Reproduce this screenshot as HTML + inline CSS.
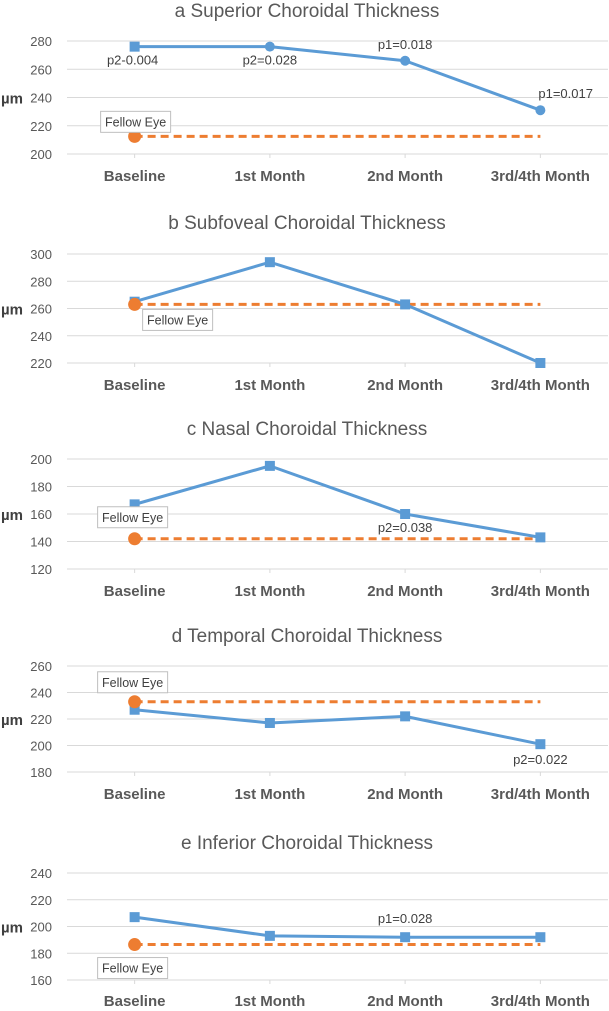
<!DOCTYPE html>
<html><head><meta charset="utf-8">
<style>
html,body{margin:0;padding:0;background:#fff;}
svg{display:block;font-family:"Liberation Sans",sans-serif;}
</style></head>
<body>
<svg id="chart" width="609" height="1011" viewBox="0 0 609 1011"></svg>
<script>
const categories = ["Baseline","1st Month","2nd Month","3rd/4th Month"];
const titles = ["a  Superior Choroidal Thickness","b  Subfoveal Choroidal Thickness","c  Nasal Choroidal Thickness","d  Temporal Choroidal Thickness","e  Inferior Choroidal Thickness"];
const studyA = [276,276,266,231];
const studyB = [265,294,263,220];
const studyC = [167,195,160,143];
const studyD = [227,217,222,201];
const studyE = [207,193,192,192];
const fellowValues = [212.5,263,142,233,186.5];
const tickA = [200,220,240,260,280];
const tickB = [220,240,260,280,300];
const tickC = [120,140,160,180,200];
const tickD = [180,200,220,240,260];
const tickE = [160,180,200,220,240];
const annotA = ["p2-0.004","p2=0.028","p1=0.018","p1=0.017"];
const annotC = ["","","p2=0.038",""];
const annotD = ["","","","p2=0.022"];
const annotE = ["","","p1=0.028",""];

const study = [studyA,studyB,studyC,studyD,studyE];
const ticks = [tickA,tickB,tickC,tickD,tickE];
const annots = [annotA,["","","",""],annotC,annotD,annotE];
// layout (not data)
const layout = [
 {top:41,bottom:154,title:17,lab:181,annDy:[14,14,-16,-16],fe:{dx:-34,dy:-25},markers:["s","c","c","c"]},
 {top:254,bottom:363,title:229,lab:390,annDy:[0,0,0,0],fe:{dx:8,dy:5},markers:["s","s","s","s"]},
 {top:459,bottom:569,title:435,lab:596,annDy:[0,0,14,0],fe:{dx:-37,dy:-32},markers:["s","s","s","s"]},
 {top:666,bottom:772,title:642,lab:799,annDy:[0,0,0,16],fe:{dx:-37,dy:-30},markers:["s","s","s","s"]},
 {top:873,bottom:980,title:849,lab:1006,annDy:[0,0,-18,0],fe:{dx:-37,dy:13},markers:["s","s","s","s"]}
];
const svg=document.getElementById('chart');
const NS="http://www.w3.org/2000/svg";
function mk(t,a,txt){const e=document.createElementNS(NS,t);for(const k in a)e.setAttribute(k,a[k]);if(txt!==undefined)e.textContent=txt;svg.appendChild(e);return e;}
const left=67,right=608;
const step=(right-left)/categories.length;
function xs(i){return left+step*(i+0.5);}
study.forEach((vals,p)=>{
  const L=layout[p],tk=ticks[p];
  const mn=tk[0],mx=tk[tk.length-1];
  const ys=v=>L.bottom-(v-mn)/(mx-mn)*(L.bottom-L.top);
  const t=mk('text',{x:307,y:L.title,'text-anchor':'middle','font-size':19,fill:'#595959'},titles[p]);
  
  
  tk.forEach(v=>{
    const g=mk('line',{x1:left,x2:right,y1:ys(v),y2:ys(v),stroke:'#d9d9d9','stroke-width':1});
    
    
    const l=mk('text',{x:52,y:ys(v)+5,'text-anchor':'end','font-size':13,fill:'#595959'},v);
    
    
  });
  const ax=mk('text',{x:1,y:(L.top+L.bottom)/2+6,'font-size':15,'font-weight':'bold',fill:'#404040'},'µm');
  
  
  categories.forEach((c,i)=>{
    mk('line',{x1:xs(i),x2:xs(i),y1:L.bottom,y2:L.bottom+4,stroke:'#d9d9d9'});
    const l=mk('text',{x:xs(i),y:L.lab,'text-anchor':'middle','font-size':15,'font-weight':'bold',fill:'#595959'},c);
    
    
  });
  const fy=ys(fellowValues[p]);
  const fl=mk('line',{x1:xs(0),x2:xs(3),y1:fy,y2:fy,stroke:'#ed7d31','stroke-width':3,'stroke-dasharray':'8,5'});
  
  
  const pts=vals.map((v,i)=>xs(i)+','+ys(v)).join(' ');
  const sl=mk('polyline',{points:pts,fill:'none',stroke:'#5b9bd5','stroke-width':3,'stroke-linejoin':'round'});
  
  
  vals.forEach((v,i)=>{
    let m;
    if(L.markers[i]==='s') m=mk('rect',{x:xs(i)-5,y:ys(v)-5,width:10,height:10,fill:'#5b9bd5'});
    else m=mk('circle',{cx:xs(i),cy:ys(v),r:5,fill:'#5b9bd5'});
    
    
    const a=annots[p][i];
    if(a){
      const at=mk('text',{x:xs(i)+(i===3&&p===0?-2:i===0?-2:0),y:ys(v)+L.annDy[i]+4,'text-anchor':i===3&&p===0?'start':'middle','font-size':13,fill:'#404040'},a);
      
      
    }
  });
  const fp=mk('circle',{cx:xs(0),cy:fy,r:6.5,fill:'#ed7d31'});
  
  
  const bx=xs(0)+L.fe.dx, by=fy+L.fe.dy;
  const r=mk('rect',{x:bx,y:by,width:70,height:21,fill:'#fff',stroke:'#bfbfbf'});
  
  
  const ft=mk('text',{x:bx+35,y:by+15,'text-anchor':'middle','font-size':12.5,fill:'#404040'},'Fellow Eye');
  
  
});
</script>
</body></html>
